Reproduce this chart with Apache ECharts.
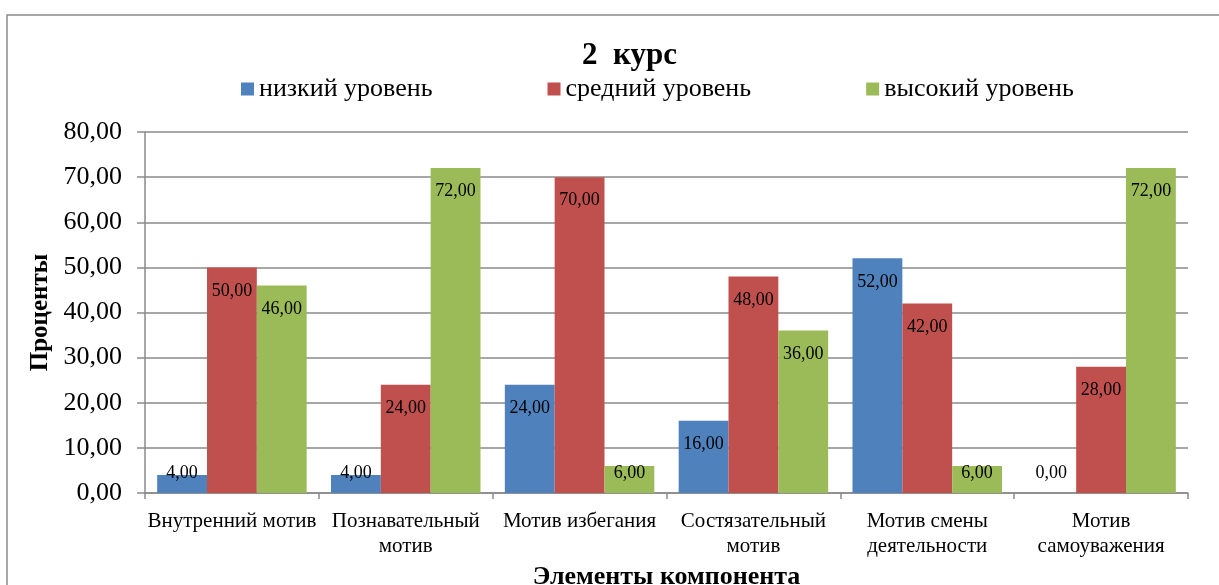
<!DOCTYPE html>
<html>
<head>
<meta charset="utf-8">
<script src="https://cdn.jsdelivr.net/npm/echarts@6/dist/echarts.min.js"></script>
<style>
  html, body { margin: 0; padding: 0; background: #fff; }
  #chart { width: 1219px; height: 585px; }
</style>
</head>
<body>
<div id="chart"></div>
<script>
// Motive components, 2nd year students (percent)
const categories = [
  'Внутренний мотив',
  'Познавательный\nмотив',
  'Мотив избегания',
  'Состязательный\nмотив',
  'Мотив смены\nдеятельности',
  'Мотив\nсамоуважения'
];
const seriesNames = ['низкий уровень', 'средний уровень', 'высокий уровень'];
const lowLevel = [4, 4, 24, 16, 52, 0];
const midLevel = [50, 24, 70, 48, 42, 28];
const highLevel = [46, 72, 6, 36, 6, 72];
const colors = ['#4F81BD', '#C0504D', '#9BBB59'];

const serif = 'Liberation Serif';
const fmt = v => Number(v).toFixed(2).replace('.', ',');

// Short bars keep their label just above the axis instead of inside the top
function withLabels(values) {
  return values.map(v => ({
    value: v,
    label: v >= 10
      ? { position: 'insideTop', distance: 14.5 }
      : { position: 'insideBottom', distance: 11 }
  }));
}

function barSeries(name, values, color) {
  return {
    name: name,
    type: 'bar',
    data: withLabels(values),
    itemStyle: { color: color },
    barGap: '0%',
    barCategoryGap: '14%',
    label: {
      show: true,
      color: '#000',
      fontFamily: serif,
      fontSize: 18,
      formatter: p => fmt(p.value)
    }
  };
}

const chart = echarts.init(document.getElementById('chart'), null, { renderer: 'canvas' });
chart.setOption({
  animation: false,
  backgroundColor: '#fff',
  graphic: [{
    type: 'rect',
    shape: { x: 7, y: 15, width: 1240, height: 620 },
    style: { fill: 'none', stroke: '#8a8a8a', lineWidth: 1.5 },
    silent: true
  }],
  title: {
    text: '2  курс',
    left: 577,
    top: 35,
    textStyle: { fontFamily: serif, fontSize: 31, fontWeight: 'bold', color: '#000' }
  },
  legend: {
    data: seriesNames,
    left: 236,
    top: 71,
    itemWidth: 13,
    itemHeight: 13,
    itemGap: 115,
    icon: 'rect',
    textStyle: { fontFamily: serif, fontSize: 26, color: '#000' }
  },
  grid: { left: 145, right: 31, top: 132, bottom: 92, outerBoundsMode: 'none', containLabel: false },
  xAxis: {
    type: 'category',
    data: categories,
    name: 'Элементы компонента',
    nameLocation: 'middle',
    nameGap: 64,
    nameTextStyle: { fontFamily: serif, fontSize: 26, fontWeight: 'bold', color: '#000' },
    axisLine: { lineStyle: { color: '#8a8a8a', width: 1.5 } },
    axisTick: { show: true, length: 6, lineStyle: { color: '#8a8a8a', width: 1.5 } },
    axisLabel: {
      fontFamily: serif, fontSize: 21, color: '#000',
      margin: 16, lineHeight: 25, interval: 0
    }
  },
  yAxis: {
    type: 'value',
    min: 0,
    max: 80,
    interval: 10,
    name: 'Проценты',
    nameLocation: 'middle',
    nameGap: 92,
    nameRotate: 90,
    nameTextStyle: { fontFamily: serif, fontSize: 25, fontWeight: 'bold', color: '#000' },
    axisLine: { show: true, lineStyle: { color: '#8a8a8a', width: 1.5 } },
    axisTick: { show: true, length: 8, lineStyle: { color: '#8a8a8a', width: 1.5 } },
    splitLine: { lineStyle: { color: '#8a8a8a', width: 1.5 } },
    axisLabel: {
      fontFamily: serif, fontSize: 26, color: '#000', margin: 23,
      formatter: v => fmt(v)
    }
  },
  series: [
    barSeries(seriesNames[0], lowLevel, colors[0]),
    barSeries(seriesNames[1], midLevel, colors[1]),
    barSeries(seriesNames[2], highLevel, colors[2])
  ]
});
</script>
</body>
</html>
